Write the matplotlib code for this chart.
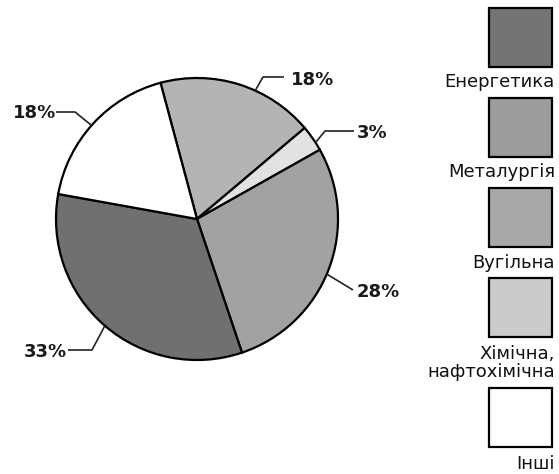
import numpy as np
import matplotlib.pyplot as plt
from matplotlib.patches import Rectangle

plt.rcParams['font.family'] = ['DejaVu Sans']

# pie slices, clockwise from the top
shares = [18, 3, 28, 33, 18]
slice_names = ['Вугільна', 'Хімічна, нафтохімічна', 'Металургія', 'Енергетика', 'Інші']
slice_colors = ['#b4b4b4', '#e2e2e2', '#a2a2a2', '#707070', '#ffffff']
pct_labels = ['18%', '3%', '28%', '33%', '18%']

# legend, top to bottom
legend_names = ['Енергетика', 'Металургія', 'Вугільна', 'Хімічна,\nнафтохімічна', 'Інші']
legend_colors = ['#747474', '#9c9c9c', '#a8a8a8', '#cbcbcb', '#ffffff']

W, H = 559, 474
fig = plt.figure(figsize=(W / 100, H / 100), dpi=100)
ax = fig.add_axes([0, 0, 1, 1])

cx, cy, R = 197, H - 219, 141
start = 105
wedges, _ = ax.pie(shares, colors=slice_colors, startangle=start, counterclock=False,
                   center=(cx, cy), radius=R, frame=True,
                   wedgeprops=dict(edgecolor='black', linewidth=1.6))
ax.set_xlim(0, W)
ax.set_ylim(0, H)
ax.set_aspect('equal')
ax.axis('off')

# leader elbows / text anchors (pixel positions, image coords)
attach_shift = [-7, -2, -2, 0, 1]
leaders = [
    [(263, 77), (284, 77)],
    [(325, 131), (354, 131)],
    [(353, 290)],
    [(92, 350), (68, 350)],
    [(75, 112), (56, 112)],
]
text_pos = [(291, 80, 'left'), (357, 133, 'left'), (357, 292, 'left'),
            (67, 352, 'right'), (56, 113, 'right')]

for w, sh, pts, (tx, ty, ha), lab in zip(wedges, attach_shift, leaders, text_pos, pct_labels):
    mid = np.deg2rad((w.theta1 + w.theta2) / 2 + sh)
    xs = [cx + R * np.cos(mid)] + [p[0] for p in pts]
    ys = [cy + R * np.sin(mid)] + [H - p[1] for p in pts]
    ax.plot(xs, ys, color='#222222', lw=1.2, solid_capstyle='butt')
    ax.text(tx, H - ty, lab, ha=ha, va='center', fontsize=13, fontweight='bold',
            color='#1a1a1a')

# legend swatches with captions underneath
sw_tops = [8, 98, 188, 278, 388]
cap_y = [82, 172, 263, 363, 464]
for top, cy_t, name, col in zip(sw_tops, cap_y, legend_names, legend_colors):
    ax.add_patch(Rectangle((489, H - top - 59), 63, 59, facecolor=col,
                           edgecolor='black', linewidth=1.6))
    ax.text(555, H - cy_t, name, ha='right', va='center', fontsize=13,
            linespacing=0.95, color='#111111')

fig.savefig('out.png', dpi=100)
